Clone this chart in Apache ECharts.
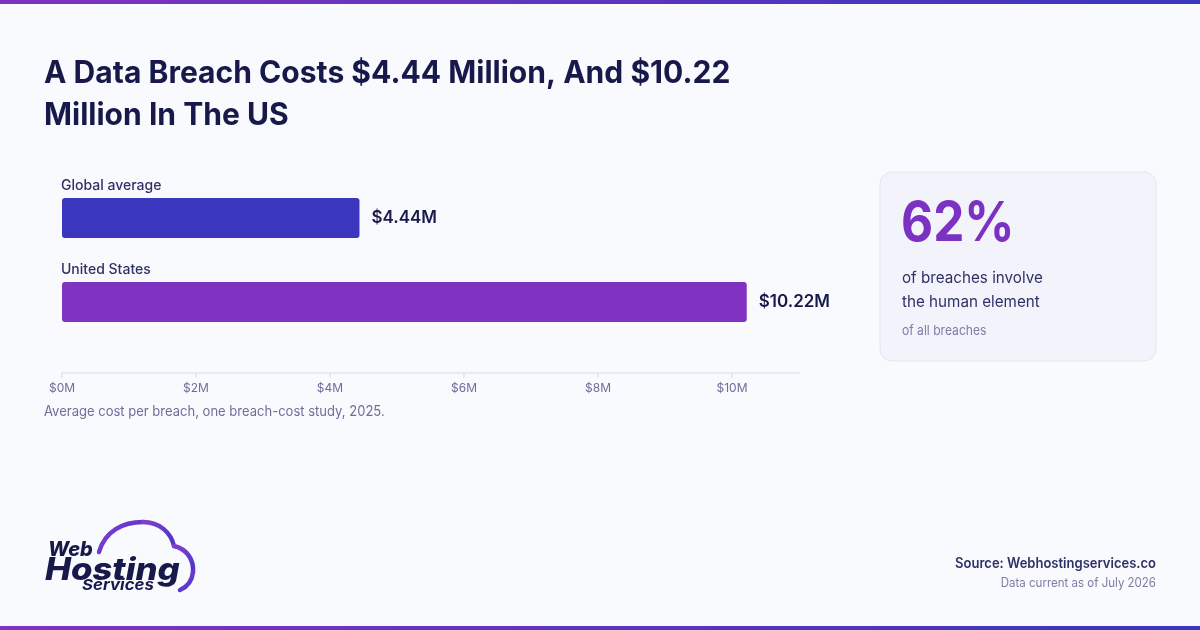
<!DOCTYPE html>
<html lang="en">
<head>
    <meta charset="UTF-8">
    <title>A Data Breach Costs $4.44 Million</title>
    <style>
        html, body { margin: 0; padding: 0; background: #f9fafd; }
        #main { width: 1200px; height: 630px; }
    </style>
</head>
<body>
    <div id="main"></div>
    <script src="https://cdn.jsdelivr.net/npm/echarts@6/dist/echarts.min.js"></script>
    <script type="text/javascript">
        var myChart = echarts.init(document.getElementById('main'));

        // data
        var categories = ['Global average', 'United States'];
        var costs = [4.44, 10.22]; // $ million
        var barColors = ['#3a36bd', '#7f33c0'];
        var xTicks = [0, 2, 4, 6, 8, 10];
        var statValue = '62%';
        var statLines = ['of breaches involve', 'the human element'];
        var statNote = 'of all breaches';

        var FONT = 'Inter, "Noto Sans", sans-serif';
        var INK = '#16194a';

        var cloudGrad = function () {
            return new echarts.graphic.LinearGradient(0, 0, 1, 1, [
                { offset: 0, color: '#8a3cd0' }, { offset: 1, color: '#4438c6' }]);
        };
        var stripeGrad = function () {
            return new echarts.graphic.LinearGradient(0, 0, 1, 0, [
                { offset: 0, color: '#7f33c0' }, { offset: 1, color: '#3a36bd' }]);
        };
        // cloud outline drawn as bezier segments
        var cloudSegs = [
            [99, 552, 105, 531, 123, 522, 143, 522],
            [143, 522, 160, 522, 171, 533, 174, 546],
            [174, 546, 187, 549, 194, 560, 193, 572],
            [193, 572, 192, 581, 187, 587, 180, 590]
        ];

        var graphics = [
            { type: 'rect', shape: { x: 0, y: 0, width: 1200, height: 4 }, style: { fill: stripeGrad() } },
            { type: 'rect', shape: { x: 0, y: 626, width: 1200, height: 4 }, style: { fill: stripeGrad() } },
            {
                type: 'text', x: 44, y: 53,
                style: {
                    text: 'A Data Breach Costs $4.44 Million, And $10.22\nMillion In The US',
                    fill: INK, font: '700 31px ' + FONT, lineHeight: 42
                },
                scaleX: 0.97
            },
            {
                type: 'text', x: 44, y: 405,
                style: { text: 'Average cost per breach, one breach-cost study, 2025.', fill: '#6b6f99', font: '14px ' + FONT },
                scaleX: 0.93
            },
            {
                type: 'rect',
                shape: { x: 880, y: 172, width: 276, height: 189, r: 12 },
                style: { fill: '#f3f4fb', stroke: '#e3e5f0', lineWidth: 1 }
            },
            { type: 'text', x: 901, y: 197, scaleX: 0.9, style: { text: statValue, fill: '#7b32c2', font: '700 55px ' + FONT } },
            { type: 'text', x: 902, y: 266, scaleX: 0.95, style: { text: statLines.join('\n'), fill: '#2d3166', font: '16px ' + FONT, lineHeight: 24 } },
            { type: 'text', x: 902, y: 325, scaleX: 0.93, style: { text: statNote, fill: '#7a7ea6', font: '13px ' + FONT } },
            { type: 'text', x: 48, y: 540, style: { text: 'Web', fill: INK, font: 'italic 800 20px ' + FONT } },
            { type: 'text', x: 45, y: 555, scaleX: 1.12, style: { text: 'Hosting', fill: INK, font: 'italic 800 31px ' + FONT } },
            { type: 'text', x: 82, y: 578, scaleX: 1.12, style: { text: 'Services', fill: INK, font: 'italic 700 15px ' + FONT } },
            {
                type: 'text', x: 1156, y: 557, scaleX: 0.93,
                style: { text: 'Source: Webhostingservices.co', align: 'right', fill: '#2d3166', font: '600 14px ' + FONT }
            },
            {
                type: 'text', x: 1156, y: 577, scaleX: 0.92,
                style: { text: 'Data current as of July 2026', align: 'right', fill: '#7a7ea6', font: '12.5px ' + FONT }
            }
        ];
        cloudSegs.forEach(function (s) {
            graphics.push({
                type: 'bezierCurve',
                shape: { x1: s[0], y1: s[1], cpx1: s[2], cpy1: s[3], cpx2: s[4], cpy2: s[5], x2: s[6], y2: s[7] },
                style: { fill: null, stroke: cloudGrad(), lineWidth: 4.5, lineCap: 'round' }
            });
        });

        var option = {
            backgroundColor: '#f9fafd',
            textStyle: { fontFamily: FONT },
            grid: { left: 62, right: 401, top: 176, height: 168 },
            xAxis: {
                type: 'value',
                min: 0,
                max: 11,
                interval: 2,
                offset: 29,
                splitLine: { show: false },
                axisLine: { show: true, lineStyle: { color: '#e1e3ef', width: 1.5 } },
                axisTick: { show: true, length: 5, lineStyle: { color: '#e1e3ef', width: 1.5 } },
                axisLabel: {
                    color: '#6b6f99',
                    fontSize: 12,
                    margin: 9,
                    showMaxLabel: false,
                    formatter: function (v) {
                        return xTicks.indexOf(v) >= 0 ? '$' + v + 'M' : '';
                    }
                }
            },
            yAxis: {
                type: 'category',
                inverse: true,
                data: categories,
                axisLine: { show: false },
                axisTick: { show: false },
                axisLabel: {
                    inside: true,
                    margin: -1,
                    align: 'left',
                    verticalAlign: 'bottom',
                    padding: [0, 0, 25, 0],
                    color: '#2d3166',
                    fontSize: 14,
                    fontWeight: 500
                }
            },
            series: [{
                type: 'bar',
                barWidth: 40,
                data: costs.map(function (v, i) {
                    return { value: v, itemStyle: { color: barColors[i] } };
                }),
                itemStyle: { borderRadius: 3 },
                label: {
                    show: true,
                    position: 'right',
                    distance: 12,
                    color: INK,
                    fontSize: 17,
                    fontWeight: 600,
                    formatter: function (p) { return '$' + p.value.toFixed(2) + 'M'; }
                }
            }],
            graphic: graphics
        };

        myChart.setOption(option);
    </script>
</body>
</html>
